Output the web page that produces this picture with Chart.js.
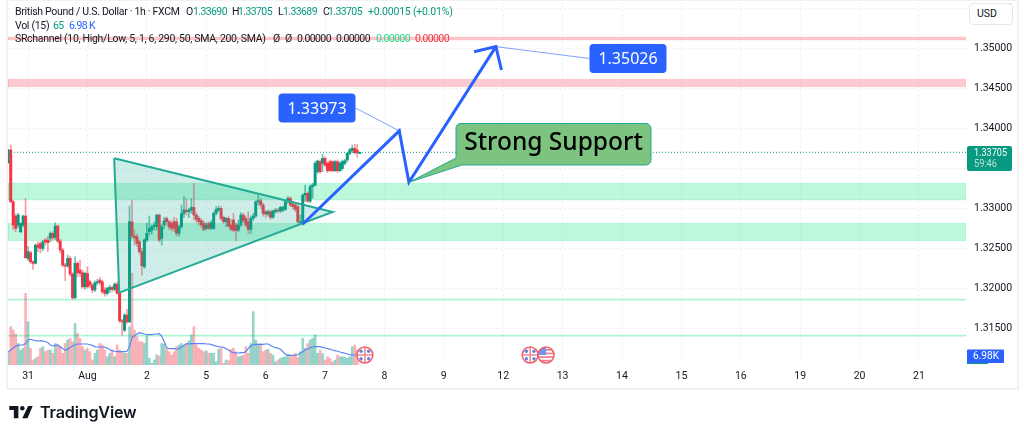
<!DOCTYPE html>
<html>
<head>
<meta charset="utf-8">
<title>GBPUSD</title>
<script src="https://cdn.jsdelivr.net/npm/chart.js@4"></script>
<style>
    html, body { margin: 0; padding: 0; background: #fff; }
    body { width: 1024px; height: 436px; position: relative; overflow: hidden; font-family: Roboto, sans-serif; color: #131722; }
    canvas { position: absolute; left: 0; top: 0; }
    .frame { position: absolute; left: 6px; top: 0; width: 1009px; height: 387px; border: 2px solid #f0f2f6; border-top-width: 1px; }
    .row { position: absolute; left: 15px; font-size: 10.5px; line-height: 12px; white-space: nowrap; letter-spacing: -0.3px; }
    .row span { position: absolute; top: 0; letter-spacing: -0.6px; }
    .up { color: #089981; }
    .blue { color: #2962ff; }
    .lime { color: #22dd88; }
    .red { color: #f23645; }
    .unit { position: absolute; left: 969px; top: 3px; width: 42px; height: 20px; border: 1px solid #e6e8ee; border-radius: 4px; background: #fff; font-size: 10.5px; line-height: 20px; text-indent: 7px; }
    .logo { position: absolute; left: 9px; top: 403px; height: 18px; display: flex; align-items: center; }
    .logo b { margin-left: 7px; font-family: Inter, sans-serif; font-weight: 600; font-size: 16.2px; letter-spacing: -0.2px; color: #131722; }
</style>
</head>
<body>
<canvas id="chart" width="1024" height="436"></canvas>
<div class="frame"></div>
<div class="row" style="top:6px">
    British Pound / U.S. Dollar · 1h · FXCM
    <span style="left:171px">O</span><span class="up" style="left:178px">1.33690</span>
    <span style="left:217px">H</span><span class="up" style="left:223px">1.33705</span>
    <span style="left:263px">L</span><span class="up" style="left:268px">1.33689</span>
    <span style="left:308px">C</span><span class="up" style="left:313px">1.33705</span>
    <span class="up" style="left:353px;letter-spacing:-0.2px">+0.00015 (+0.01%)</span>
</div>
<div class="row" style="top:20px">
    Vol (15)
    <span class="up" style="left:38px">65</span><span class="blue" style="left:54px">6.98 K</span>
</div>
<div class="row" style="top:33px">
    SRchannel (10, High/Low, 5, 1, 6, 290, 50, SMA, 200, SMA)
    <span style="left:258px">Ø</span><span style="left:270px">Ø</span>
    <span style="left:282px">0.00000</span><span style="left:321px">0.00000</span>
    <span class="lime" style="left:361px">0.00000</span><span class="red" style="left:400px">0.00000</span>
</div>
<div class="unit">USD</div>
<div class="logo">
    <svg width="24" height="13" viewBox="0 0 36 20"><path d="M14 0H0v6h7v13h7z" fill="#131722"/><circle cx="20" cy="3.5" r="3.5" fill="#131722"/><path d="M29 0h7l-8 19h-8z" fill="#131722"/></svg>
    <b>TradingView</b>
</div>

<script>
// --------------------
// Data
// --------------------
const opens = [
    1.33575,1.33734,1.33088,1.32908,1.32796,1.32712,1.32796,1.32908,1.32379,1.32449,
    1.32337,1.32317,1.32545,1.32566,1.32504,1.32608,1.32608,1.32629,1.32691,1.32641,
    1.32783,1.32595,1.32483,1.32295,1.32283,1.32379,1.32183,1.31886,1.32317,1.32233,
    1.32199,1.32024,1.32191,1.32087,1.32045,1.31984,1.32074,1.32108,1.32087,1.31984,
    1.31941,1.31991,1.32016,1.31991,1.32057,1.31941,1.31599,1.31482,1.31670,1.31586,
    1.32837,1.32658,1.32650,1.32587,1.32462,1.32274,1.32608,1.32712,1.32733,1.32775,
    1.32775,1.32921,1.32629,1.32796,1.32879,1.32837,1.32816,1.32837,1.32837,1.32691,
    1.32775,1.32941,1.32983,1.32962,1.32983,1.33017,1.32921,1.32879,1.32850,1.32816,
    1.32754,1.32816,1.32754,1.32754,1.32941,1.32983,1.33004,1.32892,1.32837,1.32879,
    1.32796,1.32858,1.32796,1.32733,1.32796,1.32921,1.32879,1.32837,1.32741,1.32879,
    1.32908,1.33088,1.33100,1.33046,1.32962,1.32933,1.32962,1.32892,1.32962,1.32983,
    1.32971,1.32983,1.32992,1.33088,1.33129,1.33058,1.33046,1.33025,1.32825,1.32825,
    1.33171,1.33192,1.33096,1.33275,1.33296,1.33463,1.33588,1.33567,1.33630,1.33567,
    1.33588,1.33588,1.33475,1.33588,1.33475,1.33504,1.33567,1.33609,1.33692,1.33725,
    1.33755,1.33734,1.33690
];
const closes = [
    1.33734,1.33088,1.32796,1.32754,1.32921,1.32816,1.32908,1.32387,1.32462,1.32337,
    1.32317,1.32545,1.32516,1.32504,1.32587,1.32583,1.32575,1.32691,1.32641,1.32783,
    1.32595,1.32483,1.32295,1.32283,1.32379,1.32183,1.31886,1.32317,1.32199,1.32191,
    1.32024,1.32191,1.32024,1.32045,1.31984,1.32074,1.32087,1.32074,1.31962,1.31941,
    1.32003,1.32016,1.31991,1.32057,1.31941,1.31599,1.31586,1.31670,1.31586,1.32837,
    1.32658,1.32637,1.32566,1.32462,1.32287,1.32608,1.32691,1.32754,1.32775,1.32796,
    1.32921,1.32608,1.32775,1.32850,1.32837,1.32775,1.32754,1.32754,1.32691,1.32775,
    1.32941,1.32983,1.32962,1.32983,1.33017,1.32921,1.32866,1.32837,1.32796,1.32741,
    1.32796,1.32754,1.32825,1.32941,1.32992,1.33004,1.32879,1.32837,1.32879,1.32783,
    1.32741,1.32733,1.32725,1.32796,1.32921,1.32850,1.32796,1.32741,1.32879,1.32908,
    1.33088,1.33100,1.33046,1.32941,1.32933,1.32962,1.32892,1.32971,1.32983,1.32971,
    1.33017,1.33017,1.33088,1.33129,1.33046,1.33025,1.32992,1.32837,1.32837,1.33171,
    1.33192,1.33096,1.33275,1.33296,1.33567,1.33596,1.33463,1.33630,1.33546,1.33475,
    1.33475,1.33475,1.33588,1.33475,1.33567,1.33588,1.33600,1.33692,1.33734,1.33755,
    1.33700,1.33700,1.33705
];
const highs = [
    1.33742,1.33796,1.33108,1.32933,1.32941,1.32825,1.32921,1.33129,1.32525,1.32475,
    1.32349,1.32558,1.32587,1.32587,1.32608,1.32629,1.32650,1.32712,1.32712,1.32825,
    1.32796,1.32616,1.32504,1.32317,1.32420,1.32408,1.32199,1.32399,1.32337,1.32358,
    1.32233,1.32212,1.32274,1.32108,1.32066,1.32099,1.32116,1.32141,1.32108,1.32016,
    1.32024,1.32045,1.32032,1.32074,1.32087,1.31962,1.31616,1.31691,1.31741,1.33033,
    1.33108,1.32733,1.32683,1.32608,1.32504,1.32629,1.32816,1.32908,1.32796,1.32837,
    1.32929,1.32933,1.32796,1.32892,1.32900,1.32858,1.32850,1.32892,1.32879,1.32796,
    1.33046,1.33150,1.33129,1.33004,1.33129,1.33317,1.32950,1.32908,1.32879,1.32850,
    1.32825,1.32837,1.32850,1.32962,1.33025,1.33033,1.33025,1.32908,1.32892,1.32900,
    1.32866,1.32941,1.32816,1.32858,1.32950,1.32941,1.32908,1.32962,1.32908,1.32941,
    1.33100,1.33171,1.33129,1.33067,1.32983,1.32983,1.32983,1.32983,1.33004,1.33004,
    1.33033,1.33033,1.33100,1.33150,1.33150,1.33088,1.33067,1.33046,1.32921,1.33183,
    1.33296,1.33213,1.33296,1.33317,1.33588,1.33609,1.33609,1.33684,1.33650,1.33588,
    1.33609,1.33600,1.33600,1.33609,1.33588,1.33609,1.33617,1.33700,1.33755,1.33796,
    1.33805,1.33805,1.33705
];
const lows = [
    1.33567,1.33075,1.32741,1.32712,1.32766,1.32700,1.32775,1.32379,1.32349,1.32317,
    1.32241,1.32308,1.32462,1.32449,1.32475,1.32545,1.32462,1.32587,1.32608,1.32616,
    1.32575,1.32449,1.32274,1.32099,1.32266,1.32158,1.31866,1.31874,1.32149,1.32149,
    1.32003,1.31991,1.32003,1.32016,1.31949,1.31962,1.32045,1.32045,1.31941,1.31907,
    1.31920,1.31949,1.31962,1.31974,1.31932,1.31574,1.31420,1.31461,1.31565,1.31574,
    1.32629,1.32545,1.32525,1.32433,1.32170,1.32254,1.32587,1.32670,1.32683,1.32733,
    1.32733,1.32587,1.32545,1.32754,1.32796,1.32741,1.32725,1.32712,1.32658,1.32658,
    1.32754,1.32892,1.32921,1.32892,1.32941,1.32858,1.32825,1.32796,1.32766,1.32725,
    1.32733,1.32741,1.32741,1.32741,1.32921,1.32962,1.32858,1.32816,1.32775,1.32766,
    1.32725,1.32712,1.32600,1.32712,1.32775,1.32825,1.32775,1.32683,1.32691,1.32850,
    1.32892,1.33046,1.33004,1.32908,1.32892,1.32908,1.32866,1.32879,1.32941,1.32950,
    1.32950,1.32962,1.32975,1.33067,1.33025,1.32992,1.32962,1.32816,1.32808,1.32796,
    1.33088,1.33075,1.33075,1.33129,1.33283,1.33442,1.33442,1.33463,1.33525,1.33450,
    1.33463,1.33463,1.33463,1.33450,1.33463,1.33484,1.33546,1.33588,1.33671,1.33700,
    1.33684,1.33642,1.33689
];

// thousands of lots
const volumes = [
    9.3,26.8,24.5,21.7,15.1,10.5,11.7,50.1,30.3,11.7,
    3.5,4.7,5.8,11.7,12.8,9.3,10.5,10.5,8.2,15.1,
    14,12.8,8.2,15.1,17.5,18.6,16.3,29.1,22.1,18.6,
    12.8,10.5,11.7,9.3,3.5,8.2,10.5,15.1,14,10.5,
    5.8,8.2,10.5,5.8,14,10.5,9.3,8.2,8.2,26.8,
    64.1,24.5,19.8,16.3,16.3,15.1,20.3,4.7,1.2,3.5,
    7,6.3,15,14.7,11.7,9.3,7,9.3,12.8,14,
    15,14,15,17,21,26.8,14,11.7,10.5,9.3,
    9.8,8.2,8.2,8.2,2.3,11,11.7,1.2,3.5,3,
    11,11.7,9.3,5.8,6.3,7,12.8,8.2,15,37.3,
    17.5,14.7,14.7,9.3,10.5,11,8.2,7,2.3,3.5,
    4.7,5.4,5.8,7.7,5.8,6.3,8.2,5.4,9.3,18.6,
    11.7,15,17.5,18.6,21,8.2,10.5,8,3.5,5.8,
    4.7,2.3,3.5,7,5.8,5.8,5.4,4.7,5.8,12.8,
    14,10.5,0.065
];
const volumeAverage = [
    9.3,10.5,11.7,13.3,13.7,14,14,15,17.5,18,
    17.5,17,16.8,17,16.8,16.3,15.8,14,13.3,13.7,
    14,12.8,11.4,10.5,10.9,12.3,13.3,14.2,14.7,14.7,
    14.7,14.7,14.7,14.2,13.7,12.8,12.6,12.6,12.6,12.3,
    11.9,10.9,10,9.6,9.3,9.3,9.3,9.3,9.6,12.8,
    19.3,20.3,21.7,22.6,22.1,21.7,21.4,21.2,21.2,21.7,
    21.7,21.9,20.3,16.3,12.3,11.4,11.4,11.4,11.2,11.2,
    12.8,13.7,15,14.7,14.9,14.9,14.9,14.9,14.9,14.9,
    14.7,14.7,14.4,13.7,13.3,12.8,12.6,12.3,11.4,10.5,
    9.3,8.6,8.4,8.4,8.6,8.6,9.3,11.7,13.3,14.2,
    14.4,14.4,14.4,14.4,14.7,14.7,13.7,12.8,12.1,11.7,
    11,9.3,7.5,6.8,6.8,6.8,6.8,7.2,8.2,9.3,
    10.5,11.2,12.1,12.6,12.8,12.8,12.8,12.3,11.9,11.4,
    11,10.5,10,9.6,9.1,8.6,8.2,7.7,7.2,7,
    7,7,6.98
];

const priceTicks = [1.315, 1.32, 1.325, 1.33, 1.335, 1.34, 1.345, 1.35, 1.355];
const dayBars = [8, 32, 56, 80, 104, 128, 152, 176, 200, 224, 248, 272, 296, 320, 344, 368];
const dayLabels = ['31', 'Aug', '2', '5', '6', '7', '8', '9', '12', '13', '14', '15', '16', '19', '20', '21'];

const lastPrice = 1.33705;
const lastVolumeLabel = '6.98K';
const countdown = '59:46';

// SR zones, [low, high]
const redZones = [[1.35109, 1.35146], [1.34525, 1.34618]];
const greenZones = [[1.33109, 1.33318], [1.32600, 1.32818], [1.31855, 1.31871], [1.31405, 1.31421]];

// Drawings, [bar, price]
const trianglePoints = [[42.8, 1.3363], [131.1, 1.32959], [44.85, 1.3195]];
const forecastPath = [[118.95, 1.32805], [158, 1.33973], [161.9, 1.3333], [197.05, 1.35026]];
const arrowHead = [[188.2, 1.34963], [197.05, 1.35026], [199.3, 1.34734]];
const targetLabels = ['1.33973', '1.35026'];
const calloutText = 'Strong Support';
const eventBars = [144.1, 210.9, 217.3];
const eventKinds = ['uk', 'uk', 'us'];

// --------------------
// Chart
// --------------------
const X_MIN = -0.1;
const X_MAX = 387;
const UP = '#089981';
const DOWN = '#f23645';

const barIndex = closes.map((_, i) => i);
const isUp = barIndex.map(i => closes[i] >= opens[i]);
const toXY = list => list.map(p => ({ x: p[0], y: p[1] }));
const zoneShape = z => [[X_MIN, z[0]], [X_MAX, z[0]], [X_MAX, z[1]], [X_MIN, z[1]], [X_MIN, z[0]]];

function zoneDataset(zone, color, edge) {
    return {
        type: 'line',
        data: toXY(zoneShape(zone)),
        fill: 'shape',
        backgroundColor: color,
        borderColor: edge,
        borderWidth: 1,
        pointRadius: 0,
        order: 10,
    };
}

function drawFlag(ctx, x, y, kind) {
    const r = 8;
    ctx.save();
    ctx.beginPath();
    ctx.arc(x, y, r, 0, Math.PI * 2);
    ctx.fillStyle = '#fff';
    ctx.fill();
    ctx.clip();
    if (kind === 'uk') {
        // pale blue quarters with the red cross over them
        ctx.fillStyle = '#5f86e0';
        [[-1, -1], [1, -1], [-1, 1], [1, 1]].forEach(q => {
            ctx.beginPath();
            ctx.arc(x + q[0] * 3.8, y + q[1] * 3.8, 1.7, 0, Math.PI * 2);
            ctx.fill();
        });
        ctx.strokeStyle = '#ee8a93';
        ctx.lineWidth = 1.6;
        ctx.beginPath();
        ctx.moveTo(x - r, y); ctx.lineTo(x + r, y);
        ctx.moveTo(x, y - r); ctx.lineTo(x, y + r);
        ctx.stroke();
    } else {
        ctx.fillStyle = '#ee7f89';
        for (let k = 0; k < 4; k++) {
            ctx.fillRect(x - r, y - 6 + k * 3.6, r * 2, 1.7);
        }
        ctx.fillStyle = '#6f96ea';
        ctx.fillRect(x - r, y - r, r, r);
    }
    ctx.restore();
    ctx.strokeStyle = '#f0646f';
    ctx.lineWidth = 1.6;
    ctx.beginPath();
    ctx.arc(x, y, r, 0, Math.PI * 2);
    ctx.stroke();
}

// draws the callouts, tags and flags that are not series
const overlayPlugin = {
    id: 'overlay',
    afterDatasetsDraw(chart) {
        const { ctx, scales } = chart;
        const px = p => scales.x.getPixelForValue(p[0]);
        const py = p => scales.y.getPixelForValue(p[1]);

        ctx.save();

        // labels joined to the forecast points
        const boxes = [[278.5, 93.5, 77, 29], [589.5, 44, 77, 29]];
        const targets = [forecastPath[1], forecastPath[3]];
        const anchors = [[355.5, 108], [589.5, 58.5]];
        targets.forEach((t, i) => {
            ctx.strokeStyle = 'rgba(41,98,255,.6)';
            ctx.lineWidth = 1;
            ctx.beginPath();
            ctx.moveTo(anchors[i][0], anchors[i][1]);
            ctx.lineTo(px(t), py(t));
            ctx.stroke();
            ctx.fillStyle = '#2962ff';
            ctx.beginPath();
            ctx.arc(px(t), py(t), 1.5, 0, Math.PI * 2);
            ctx.fill();
            ctx.beginPath();
            ctx.roundRect(boxes[i][0], boxes[i][1], boxes[i][2], boxes[i][3], 4);
            ctx.fill();
            ctx.fillStyle = '#fff';
            ctx.font = '16px "Noto Sans"';
            ctx.textAlign = 'center';
            ctx.textBaseline = 'middle';
            ctx.fillText(targetLabels[i], boxes[i][0] + boxes[i][2] / 2, boxes[i][1] + boxes[i][3] / 2 + 1);
        });

        // callout with its pointer on the path's low point
        const tip = forecastPath[2];
        ctx.fillStyle = '#7cc47f';
        ctx.strokeStyle = '#22ab94';
        ctx.lineWidth = 1;
        ctx.beginPath();
        ctx.moveTo(460, 123.5);
        ctx.lineTo(646, 123.5);
        ctx.arcTo(651, 123.5, 651, 128.5, 5);
        ctx.lineTo(651, 160);
        ctx.arcTo(651, 165, 646, 165, 5);
        ctx.lineTo(462, 165);
        ctx.lineTo(px(tip), py(tip));
        ctx.lineTo(456, 158);
        ctx.lineTo(456, 128);
        ctx.arcTo(456, 123.5, 460, 123.5, 4.5);
        ctx.closePath();
        ctx.fill();
        ctx.stroke();
        ctx.fillStyle = '#000';
        ctx.font = '500 24.5px "Noto Sans"';
        ctx.textAlign = 'center';
        ctx.textBaseline = 'middle';
        ctx.fillText(calloutText, 553.5, 143);

        // price tag on the axis
        ctx.fillStyle = UP;
        ctx.beginPath();
        ctx.roundRect(967, 146, 45, 25, 2);
        ctx.fill();
        ctx.textAlign = 'left';
        ctx.font = '10.5px Roboto';
        ctx.fillStyle = '#fff';
        ctx.fillText(lastPrice.toFixed(5), 974, 153, 33);
        ctx.fillStyle = '#b7e3d9';
        ctx.fillText(countdown, 974, 164, 23);

        // volume tag
        ctx.fillStyle = UP;
        ctx.fillRect(967, 362, 21, 2);
        ctx.fillStyle = '#2962ff';
        ctx.beginPath();
        ctx.roundRect(967, 349.5, 37, 13.5, 1);
        ctx.fill();
        ctx.fillStyle = '#fff';
        ctx.font = '10.5px Roboto';
        ctx.fillText(lastVolumeLabel, 973, 356.5, 26);

        eventBars.forEach((bar, i) => drawFlag(ctx, scales.x.getPixelForValue(bar), 355, eventKinds[i]));

        ctx.restore();
    },
};

const chart = new Chart(document.getElementById('chart'), {
    type: 'bar',
    data: {
        datasets: [
            ...redZones.map(z => zoneDataset(z, 'rgba(242,54,69,.26)', 'rgba(242,54,69,.12)')),
            ...greenZones.map(z => zoneDataset(z, 'rgba(0,225,120,.26)', 'rgba(0,225,120,.14)')),
            {
                label: 'Volume',
                yAxisID: 'v',
                data: barIndex.map(i => ({ x: i, y: volumes[i] })),
                backgroundColor: barIndex.map(i => isUp[i] ? 'rgba(8,153,129,.42)' : 'rgba(242,54,69,.38)'),
                barThickness: 2,
                grouped: false,
                order: 9,
            },
            {
                type: 'line',
                label: 'Vol SMA',
                yAxisID: 'v',
                data: barIndex.map(i => ({ x: i, y: volumeAverage[i] })),
                borderColor: '#5b82f5',
                borderWidth: 1.2,
                pointRadius: 0,
                order: 8,
            },
            {
                label: 'Wick',
                data: barIndex.map(i => ({ x: i, y: [lows[i], highs[i]] })),
                backgroundColor: barIndex.map(i => isUp[i] ? 'rgba(8,153,129,.6)' : 'rgba(242,54,69,.5)'),
                barThickness: 1,
                grouped: false,
                order: 7,
            },
            {
                label: 'Body',
                data: barIndex.map(i => ({ x: i, y: [opens[i], closes[i]] })),
                backgroundColor: barIndex.map(i => isUp[i] ? UP : DOWN),
                barThickness: 2.3,
                grouped: false,
                order: 6,
            },
            {
                type: 'line',
                label: 'Last price',
                data: toXY([[X_MIN, lastPrice], [X_MAX, lastPrice]]),
                borderColor: UP,
                borderWidth: 1,
                borderDash: [1, 2],
                pointRadius: 0,
                order: 5,
            },
            {
                type: 'line',
                label: 'Triangle',
                data: toXY([...trianglePoints, trianglePoints[0]]),
                fill: 'shape',
                backgroundColor: 'rgba(34,171,148,.22)',
                borderColor: '#22ab94',
                borderWidth: 2,
                pointRadius: 0,
                order: 4,
            },
            {
                type: 'line',
                label: 'Forecast',
                data: toXY(forecastPath),
                borderColor: '#2962ff',
                borderWidth: 3,
                pointRadius: 0,
                order: 3,
            },
            {
                type: 'line',
                label: 'Arrow head',
                data: toXY(arrowHead),
                borderColor: '#2962ff',
                borderWidth: 3,
                pointRadius: 0,
                order: 3,
            },
        ],
    },
    options: {
        responsive: false,
        animation: false,
        devicePixelRatio: 1,
        layout: { padding: { left: 8, top: 2, right: 0, bottom: 48 } },
        plugins: { legend: { display: false }, tooltip: { enabled: false } },
        scales: {
            x: {
                type: 'linear',
                offset: false,
                min: X_MIN,
                max: X_MAX,
                afterBuildTicks: (axis) => { axis.ticks = dayBars.map(value => ({ value })); },
                afterFit: (axis) => {
                    axis.height = 23;
                    axis.paddingLeft = 0;
                    axis.paddingRight = 0;
                },
                grid: { color: '#f0f1f5', drawTicks: false, offset: false },
                border: { display: false, dash: [2, 2] },
                ticks: {
                    autoSkip: false,
                    maxRotation: 0,
                    padding: 5,
                    color: '#131722',
                    font: { family: 'Roboto', size: 10.5 },
                    callback: (value) => dayLabels[dayBars.indexOf(value)],
                },
            },
            y: {
                position: 'right',
                min: 1.31046,
                max: 1.35584,
                afterBuildTicks: (axis) => { axis.ticks = priceTicks.map(value => ({ value })); },
                afterFit: (axis) => {
                    axis.width = 58;
                    axis.paddingTop = 0;
                    axis.paddingBottom = 0;
                },
                grid: { color: '#f0f1f5', drawTicks: false },
                border: { display: false, dash: [2, 2] },
                ticks: {
                    padding: 8,
                    color: '#131722',
                    font: { family: 'Roboto', size: 10.5 },
                    callback: (value) => value.toFixed(5),
                },
            },
            v: {
                display: false,
                min: 0,
                max: 254,
            },
        },
    },
    plugins: [overlayPlugin],
});
</script>
</body>
</html>
